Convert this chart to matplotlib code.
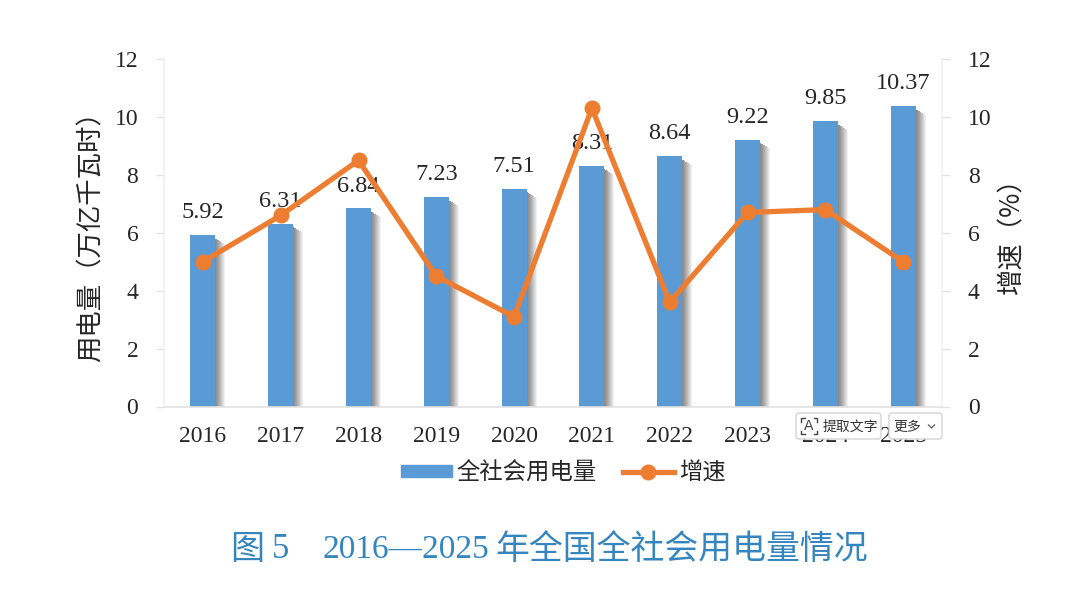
import matplotlib
matplotlib.use("Agg")
import matplotlib.pyplot as plt
from matplotlib.patches import FancyBboxPatch, Rectangle
import numpy as np

years = ["2016", "2017", "2018", "2019", "2020", "2021", "2022", "2023", "2024", "2025"]
usage = [5.92, 6.31, 6.84, 7.23, 7.51, 8.31, 8.64, 9.22, 9.85, 10.37]
growth = [5.0, 6.6, 8.5, 4.5, 3.1, 10.3, 3.6, 6.7, 6.8, 5.0]
yticks = [0, 2, 4, 6, 8, 10, 12]

CJK = ["Noto Sans CJK SC", "DejaVu Sans"]
SERIF = ["Liberation Serif", "Noto Sans CJK SC"]
BLUE = "#5b9bd5"
ORANGE = "#ed7d31"
TEXT = "#262626"
AXIS = "#e2e2e2"

W, H = 1080, 614


def px_box(x0, y0, x1, y1):
    return [x0 / W, 1 - y1 / H, (x1 - x0) / W, (y1 - y0) / H]


fig = plt.figure(figsize=(W / 100, H / 100), dpi=100, facecolor="white")
ax = fig.add_axes(px_box(164, 59, 942, 406.5))
x = np.arange(len(years))
bar_w = 0.32

# soft shadow on the right of each bar: nested grey strips, widest and palest first
steps = 11
px = 1 / 77.8
for i in reversed(range(steps)):
    grey = 0.52 + 0.48 * ((i + 1) / steps) ** 1.3
    ax.bar(x + bar_w / 2 - px, np.array(usage) - 0.12 - 0.02 * i, width=(i + 2) * px,
           align="edge", color=(grey, grey, grey), linewidth=0, zorder=1)

ax.bar(x, usage, width=bar_w, color=BLUE, zorder=2)

ax.set_xlim(-0.5, 9.5)
ax.set_ylim(0, 12)
ax.set_xticks(x)
ax.set_xticklabels(years, family=SERIF, fontsize=17, color=TEXT)
ax.set_yticks(yticks)
ax.set_yticklabels([str(t) for t in yticks], family=SERIF, fontsize=17, color=TEXT)
ax.tick_params(axis="x", length=0, pad=14)
ax.tick_params(axis="y", length=5.5, width=1, color=AXIS, pad=13)

for side in ["left", "right", "bottom"]:
    ax.spines[side].set_linewidth(1.2)
ax.spines["top"].set_visible(False)
ax.spines["bottom"].set_color(AXIS)
ax.spines["left"].set_color("#f0f0f0")
ax.spines["right"].set_color("#f0f0f0")

for xi, v in zip(x, usage):
    ax.annotate(f"{v:.2f}", (xi, v), xytext=(0, 8.5), textcoords="offset points",
                ha="center", va="bottom", family=SERIF, fontsize=17.5, color=TEXT, zorder=3)

ax2 = ax.twinx()
ax2.set_ylim(0, 12)
ax2.set_yticks(yticks)
ax2.set_yticklabels([str(t) for t in yticks], family=SERIF, fontsize=17, color=TEXT)
ax2.tick_params(axis="y", length=5.5, width=1, color=AXIS, pad=13)
for spine in ax2.spines.values():
    spine.set_visible(False)
line, = ax2.plot(x, growth, color=ORANGE, linewidth=3.8, marker="o", markersize=10.5,
                 solid_joinstyle="round")

# axis titles placed on the figure so their position is independent of tick label width
fig.text(91 / W, 1 - 230 / H, "用电量（万亿千瓦时）", family=CJK, fontsize=19, color=TEXT,
         rotation=90, ha="center", va="center", fontweight="medium")
fig.text(1012 / W, 1 - 229 / H, "增速（%）", family=CJK, fontsize=19, color=TEXT,
         rotation=90, ha="center", va="center", fontweight="medium")

# legend drawn at figure level so both axes share it
handles = [Rectangle((0, 0), 1, 1, color=BLUE), line]
fig.legend(handles, ["全社会用电量", "增速"], loc="center", bbox_to_anchor=(563 / W, 1 - 473 / H),
           ncol=2, frameon=False, prop={"family": CJK, "size": 16.8}, labelcolor=TEXT,
           handlelength=2.2, handleheight=0.4, columnspacing=1.1, handletextpad=0.2)

# figure caption: Latin digits in serif, Chinese in sans
cap_color = "#3585bf"
caption_y = 1 - 550 / H
fig.text(230 / W, caption_y, "图", family=CJK, fontsize=24.5, color=cap_color, va="center", fontweight="medium")
fig.text(272 / W, caption_y, "5", family=SERIF, fontsize=25, color=cap_color, va="center")
fig.text(323 / W, caption_y, "2016—2025", family=SERIF, fontsize=24, color=cap_color, va="center")
fig.text(495 / W, caption_y, "年全国全社会用电量情况", family=CJK, fontsize=24.4, color=cap_color,
         va="center", fontweight="medium")

# floating toolbar buttons sitting over the lower right tick labels
overlay = fig.add_axes([0, 0, 1, 1], zorder=10)
overlay.set_xlim(0, W)
overlay.set_ylim(H, 0)
overlay.axis("off")
overlay.patch.set_alpha(0)
for x0, x1 in [(796, 881), (889, 942)]:
    overlay.add_patch(FancyBboxPatch((x0 + 3, 416), x1 - x0 - 6, 20, boxstyle="round,pad=3",
                                     facecolor="white", edgecolor="#d4d4d4", linewidth=1))
overlay.text(809, 426, "A", family="DejaVu Sans", fontsize=10, ha="center", va="center", color="#444444")
# corner brackets around the icon letter
for cx, cy, dx, dy in [(801, 418, 1, 1), (817, 418, -1, 1), (801, 434, 1, -1), (817, 434, -1, -1)]:
    overlay.plot([cx + 3.5 * dx, cx, cx], [cy, cy, cy + 3.5 * dy], color="#444444", linewidth=1)
overlay.text(823, 426.5, "提取文字", family=CJK, fontsize=10, va="center", color="#333333")
overlay.text(893, 426.5, "更多", family=CJK, fontsize=10, va="center", color="#333333")
overlay.plot([928.5, 931.5, 934.5], [425, 428, 425], color="#666666", linewidth=1)

fig.savefig("out.png", dpi=100, facecolor="white")
